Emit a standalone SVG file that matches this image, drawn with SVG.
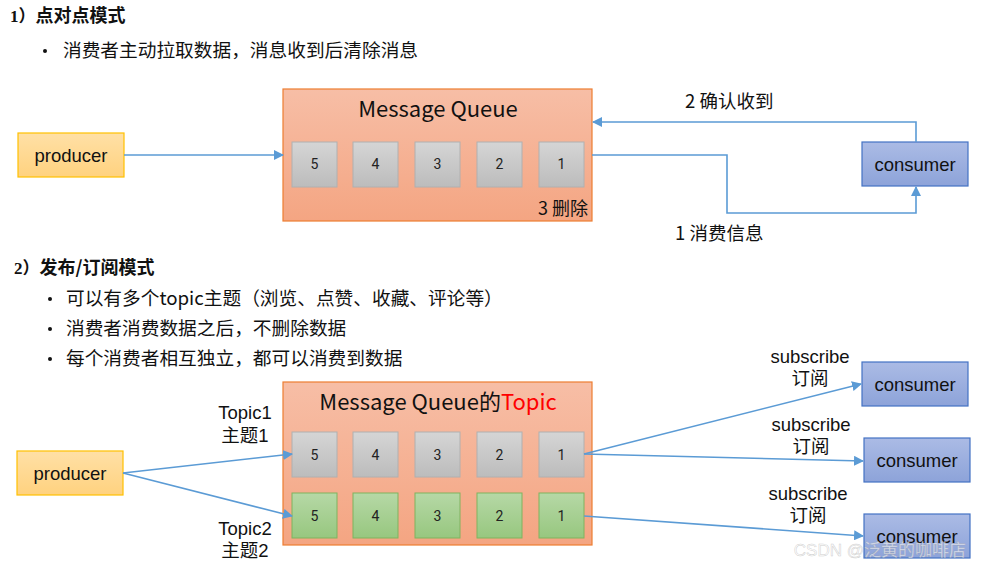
<svg xmlns="http://www.w3.org/2000/svg" width="983" height="569" viewBox="0 0 983 569">
<defs>
<linearGradient id="gq" x1="0" y1="0" x2="0" y2="1"><stop offset="0" stop-color="#f7bea6"/><stop offset="1" stop-color="#f4a582"/></linearGradient>
<linearGradient id="gp" x1="0" y1="0" x2="0" y2="1"><stop offset="0" stop-color="#ffe0a6"/><stop offset="1" stop-color="#ffd27f"/></linearGradient>
<linearGradient id="gc" x1="0" y1="0" x2="0" y2="1"><stop offset="0" stop-color="#abbbe5"/><stop offset="1" stop-color="#8da3d9"/></linearGradient>
<linearGradient id="gg" x1="0" y1="0" x2="0" y2="1"><stop offset="0" stop-color="#d5d5d5"/><stop offset="1" stop-color="#bcbcbc"/></linearGradient>
<linearGradient id="gn" x1="0" y1="0" x2="0" y2="1"><stop offset="0" stop-color="#b6d8a6"/><stop offset="1" stop-color="#97c77f"/></linearGradient>
<marker id="ar" viewBox="0 0 10 10" refX="9" refY="5" markerWidth="10" markerHeight="10" markerUnits="userSpaceOnUse" orient="auto"><path d="M0,0 L10,5 L0,10 z" fill="#5b9bd5"/></marker>
</defs>
<style>
.t{font-family:"Noto Sans CJK SC","Liberation Sans",sans-serif;fill:#111}
.h{font-family:"Liberation Serif","Noto Sans CJK SC",serif;font-weight:bold;font-size:17px;fill:#111}
.b{font-size:18.7px}
.q{fill:url(#gq);stroke:#ed7d31;stroke-width:1.2}
.p{fill:url(#gp);stroke:#ffc000;stroke-width:1.2}
.c{fill:url(#gc);stroke:#4472c4;stroke-width:1.2}
.g{fill:url(#gg);stroke:#b0b0b0;stroke-width:1}
.n{fill:url(#gn);stroke:#7fb35f;stroke-width:1}
.lbl{font-family:"Liberation Sans","Noto Sans CJK SC",sans-serif;font-size:18.5px;fill:#111;text-anchor:middle}
.num{font-family:"Roboto","Liberation Sans",sans-serif;font-size:14px;fill:#222;text-anchor:middle}
.ln{fill:none;stroke:#5b9bd5;stroke-width:1.6}
.dot{fill:#111}
</style>

<!-- headings -->
<text class="h" x="10" y="22">1）<tspan font-family="Noto Sans CJK SC" font-size="18">点对点模式</tspan></text>
<circle class="dot" cx="45" cy="51" r="2"/>
<text class="t b" x="63" y="57">消费者主动拉取数据，消息收到后清除消息</text>

<text class="h" x="14" y="274">2）<tspan font-family="Noto Sans CJK SC" font-size="18">发布/订阅模式</tspan></text>
<circle class="dot" cx="50" cy="299" r="2"/>
<text class="t b" x="66" y="305">可以有多个topic主题（浏览、点赞、收藏、评论等）</text>
<circle class="dot" cx="50" cy="329" r="2"/>
<text class="t b" x="66" y="335">消费者消费数据之后，不删除数据</text>
<circle class="dot" cx="50" cy="359" r="2"/>
<text class="t b" x="66" y="365">每个消费者相互独立，都可以消费到数据</text>

<!-- section 1 nodes -->
<g id="producer1"><rect class="p" x="18" y="133" width="106" height="44"/><text class="lbl" x="71" y="162">producer</text></g>
<g id="queue1">
<rect class="q" x="283" y="89" width="309" height="132"/>
<text class="t" x="438" y="117" font-size="22" text-anchor="middle">Message Queue</text>
<text class="t" x="588" y="215" font-size="18" text-anchor="end">3 删除</text>
</g>
<g id="q1m5"><rect class="g" x="292" y="142" width="45" height="45"/><text class="num" x="314.5" y="169">5</text></g>
<g id="q1m4"><rect class="g" x="353" y="142" width="45" height="45"/><text class="num" x="375.5" y="169">4</text></g>
<g id="q1m3"><rect class="g" x="415" y="142" width="45" height="45"/><text class="num" x="437.5" y="169">3</text></g>
<g id="q1m2"><rect class="g" x="477" y="142" width="45" height="45"/><text class="num" x="499.5" y="169">2</text></g>
<g id="q1m1"><rect class="g" x="539" y="142" width="45" height="45"/><text class="num" x="561.5" y="169">1</text></g>
<g id="consumer1"><rect class="c" x="862" y="142" width="106" height="44"/><text class="lbl" x="915" y="171">consumer</text></g>

<!-- section 2 nodes -->
<g id="producer2"><rect class="p" x="17" y="451" width="106" height="44"/><text class="lbl" x="70" y="480">producer</text></g>
<g id="queue2">
<rect class="q" x="283" y="382" width="309" height="163"/>
<text class="t" x="438" y="410" font-size="22" text-anchor="middle">Message Queue的<tspan fill="#ff0000">Topic</tspan></text>
</g>
<g id="t1m5"><rect class="g" x="292" y="432" width="45" height="45"/><text class="num" x="314.5" y="460">5</text></g>
<g id="t1m4"><rect class="g" x="353" y="432" width="45" height="45"/><text class="num" x="375.5" y="460">4</text></g>
<g id="t1m3"><rect class="g" x="415" y="432" width="45" height="45"/><text class="num" x="437.5" y="460">3</text></g>
<g id="t1m2"><rect class="g" x="477" y="432" width="45" height="45"/><text class="num" x="499.5" y="460">2</text></g>
<g id="t1m1"><rect class="g" x="539" y="432" width="45" height="45"/><text class="num" x="561.5" y="460">1</text></g>
<g id="t2m5"><rect class="n" x="292" y="493" width="45" height="45"/><text class="num" x="314.5" y="521">5</text></g>
<g id="t2m4"><rect class="n" x="353" y="493" width="45" height="45"/><text class="num" x="375.5" y="521">4</text></g>
<g id="t2m3"><rect class="n" x="415" y="493" width="45" height="45"/><text class="num" x="437.5" y="521">3</text></g>
<g id="t2m2"><rect class="n" x="477" y="493" width="45" height="45"/><text class="num" x="499.5" y="521">2</text></g>
<g id="t2m1"><rect class="n" x="539" y="493" width="45" height="45"/><text class="num" x="561.5" y="521">1</text></g>
<g id="consumer2a"><rect class="c" x="862" y="362" width="106" height="44"/><text class="lbl" x="915" y="391">consumer</text></g>
<g id="consumer2b"><rect class="c" x="864" y="438" width="106" height="44"/><text class="lbl" x="917" y="467">consumer</text></g>
<g id="consumer2c"><rect class="c" x="864" y="514" width="106" height="44"/><text class="lbl" x="917" y="543">consumer</text></g>

<!-- connectors -->
<g id="connectors">
<line class="ln" x1="124" y1="155" x2="283" y2="155" marker-end="url(#ar)"/>
<polyline class="ln" points="592,155 727,155 727,213 916,213 916,187" marker-end="url(#ar)"/>
<polyline class="ln" points="916,142 916,122 593,122" marker-end="url(#ar)"/>
<line class="ln" x1="123" y1="473" x2="292" y2="454" marker-end="url(#ar)"/>
<line class="ln" x1="123" y1="473" x2="292" y2="516" marker-end="url(#ar)"/>
<line class="ln" x1="584" y1="454" x2="861" y2="384" marker-end="url(#ar)"/>
<line class="ln" x1="584" y1="454" x2="863" y2="461" marker-end="url(#ar)"/>
<line class="ln" x1="584" y1="516" x2="863" y2="536" marker-end="url(#ar)"/>
</g>

<!-- connector labels -->
<text class="t" x="685" y="108" font-size="18.5">2 确认收到</text>
<text class="t" x="675" y="240" font-size="18.5">1 消费信息</text>
<text class="lbl" x="810" y="363">subscribe</text>
<text class="lbl" x="810" y="385">订阅</text>
<text class="lbl" x="811" y="431">subscribe</text>
<text class="lbl" x="811" y="453">订阅</text>
<text class="lbl" x="808" y="500">subscribe</text>
<text class="lbl" x="808" y="522">订阅</text>
<text class="lbl" x="245" y="419">Topic1</text>
<text class="lbl" x="245" y="442">主题1</text>
<text class="lbl" x="245" y="535">Topic2</text>
<text class="lbl" x="245" y="557">主题2</text>

<text x="966" y="556" text-anchor="end" font-family="Liberation Sans,Noto Sans CJK SC,sans-serif" font-size="17" fill="#ffffff" fill-opacity="0.6" stroke="#999" stroke-opacity="0.5" stroke-width="0.5">CSDN @泛黄的咖啡店</text>
</svg>
